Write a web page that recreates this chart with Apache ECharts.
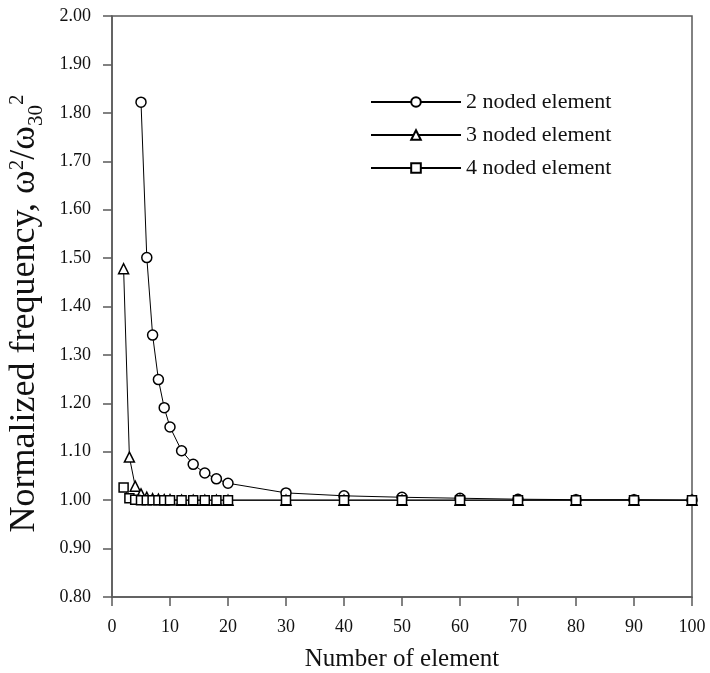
<!DOCTYPE html>
<html>
<head>
<meta charset="utf-8">
<script src="https://cdn.jsdelivr.net/npm/echarts@6/dist/echarts.min.js"></script>
<style>html,body{margin:0;padding:0;background:#fff;}#c{width:710px;height:673px;}</style>
</head>
<body>
<div id="c"></div>
<script>
const seriesNames = ['2 noded element', '3 noded element', '4 noded element'];
const x2 = [5, 6, 7, 8, 9, 10, 12, 14, 16, 18, 20, 30, 40, 50, 60, 70, 80, 90, 100];
const y2 = [1.822, 1.501, 1.341, 1.249, 1.191, 1.151, 1.102, 1.074, 1.056, 1.044, 1.035, 1.015, 1.009, 1.006, 1.004, 1.002, 1.001, 1.001, 1.000];
const x3 = [2, 3, 4, 5, 6, 7, 8, 9, 10, 12, 14, 16, 18, 20, 30, 40, 50, 60, 70, 80, 90, 100];
const y3 = [1.478, 1.089, 1.029, 1.013, 1.006, 1.003, 1.002, 1.001, 1.001, 1.000, 1.000, 1.000, 1.000, 1.000, 1.000, 1.000, 1.000, 1.000, 1.000, 1.000, 1.000, 1.000];
const x4 = [2, 3, 4, 5, 6, 7, 8, 9, 10, 12, 14, 16, 18, 20, 30, 40, 50, 60, 70, 80, 90, 100];
const y4 = [1.026, 1.004, 1.001, 1.000, 1.000, 1.000, 1.000, 1.000, 1.000, 1.000, 1.000, 1.000, 1.000, 1.000, 1.000, 1.000, 1.000, 1.000, 1.000, 1.000, 1.000, 1.000];
const symbols = ['circle', 'triangle', 'rect'];

const FONT = '"Liberation Serif", "DejaVu Serif", serif';
const zip = (xs, ys) => xs.map((x, i) => [x, ys[i]]);
const dataSets = [zip(x2, y2), zip(x3, y3), zip(x4, y4)];

const chart = echarts.init(document.getElementById('c'));
chart.setOption({
  backgroundColor: '#fff',
  animation: false,
  grid: { left: 112, right: 18, top: 16, bottom: 76, containLabel: false, outerBoundsMode: 'none', show: true, borderColor: '#5a5a5a', borderWidth: 1.5, backgroundColor: 'transparent' },
  legend: {
    left: 365, top: 86, orient: 'vertical', itemWidth: 90, itemHeight: 12, itemGap: 11,
    textStyle: { fontFamily: FONT, fontSize: 22, color: '#111' },
    data: seriesNames
  },
  xAxis: {
    type: 'value', min: 0, max: 100, interval: 10,
    name: 'Number of element', nameLocation: 'middle', nameGap: 50,
    nameTextStyle: { fontFamily: FONT, fontSize: 25, color: '#111' },
    axisLine: { show: true, lineStyle: { color: '#5a5a5a', width: 1.5 } },
    axisTick: { show: true, inside: false, length: 9, lineStyle: { color: '#5a5a5a', width: 1.5 } },
    axisLabel: { fontFamily: FONT, fontSize: 18, color: '#111', margin: 21 },
    splitLine: { show: false }
  },
  yAxis: {
    type: 'value', min: 0.8, max: 2.0, interval: 0.1,
    name: 'Normalized frequency, ω{sup|2}/ω{sub|30}{sup|2}', nameLocation: 'middle', nameGap: 65, nameRotate: 90,
    nameTextStyle: {
      fontFamily: FONT, fontSize: 36, color: '#111', lineHeight: 44, padding: [0, 14, 0, 0],
      rich: {
        sup: { fontFamily: FONT, fontSize: 21, color: '#111', verticalAlign: 'top', lineHeight: 44, padding: [4, 0, 0, 0] },
        sub: { fontFamily: FONT, fontSize: 21, color: '#111', verticalAlign: 'bottom', lineHeight: 44 }
      }
    },
    axisLine: { show: true, lineStyle: { color: '#5a5a5a', width: 1.5 } },
    axisTick: { show: true, inside: false, length: 9, lineStyle: { color: '#5a5a5a', width: 1.5 } },
    axisLabel: { fontFamily: FONT, fontSize: 18, color: '#111', margin: 21, formatter: v => v.toFixed(2) },
    splitLine: { show: false }
  },
  series: seriesNames.map((n, i) => ({
    name: n, type: 'line', data: dataSets[i],
    symbol: symbols[i], symbolSize: i === 2 ? 9 : 10, showSymbol: true,
    lineStyle: { color: '#000', width: 1 },
    itemStyle: { color: '#fff', borderColor: '#000', borderWidth: 1.5 },
    z: 2 + i
  }))
});
</script>
</body>
</html>
